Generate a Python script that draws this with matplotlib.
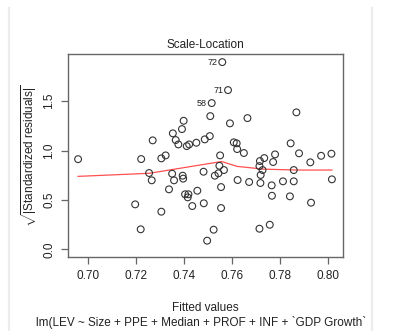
import matplotlib
matplotlib.use("Agg")
import matplotlib.pyplot as plt
from matplotlib.lines import Line2D

plt.rcParams['font.family'] = ['Liberation Sans', 'DejaVu Sans']
plt.rcParams['mathtext.fontset'] = 'custom'
plt.rcParams['mathtext.rm'] = 'Liberation Sans'
plt.rcParams['mathtext.it'] = 'Liberation Sans:italic'

# Fitted values and sqrt(|standardized residuals|)
fitted = [
    0.6957, 0.7220, 0.7268, 0.7304, 0.7322, 0.7352, 0.7364, 0.7375, 0.7390, 0.7397,
    0.7410, 0.7420, 0.7450,
    0.7558, 0.7582, 0.7514, 0.7508, 0.7663, 0.7590, 0.7867, 0.7485, 0.7506, 0.7606,
    0.7618, 0.7620, 0.7648, 0.7549, 0.7843, 0.7878, 0.7778, 0.7733, 0.7715, 0.7770,
    0.7925, 0.7970, 0.8013, 0.7546, 0.7713,
    0.7253, 0.7264, 0.7349, 0.7357, 0.7393, 0.7395, 0.7336, 0.7195, 0.7304, 0.7218,
    0.7403, 0.7417, 0.7414, 0.7454, 0.7433,
    0.7480, 0.7527, 0.7542, 0.7553, 0.7481, 0.7553, 0.7522, 0.7495, 0.7622, 0.7670,
    0.7717, 0.7764, 0.7765, 0.7811, 0.7856, 0.7840, 0.7928, 0.8015, 0.7713, 0.7756,
    0.7856, 0.7718, 0.7726, 0.7565,
]
sqrt_std_resid = [
    0.913, 0.914, 1.103, 0.921, 0.951, 1.174, 1.106, 1.062, 1.217, 1.301,
    1.045, 1.062, 1.079,
    1.894, 1.611, 1.480, 1.348, 1.328, 1.275, 1.386, 1.113, 1.146, 1.083,
    1.073, 1.015, 0.975, 0.951, 1.073, 0.972, 0.961, 0.924, 0.894, 0.884,
    0.881, 0.947, 0.968, 0.846, 0.843,
    0.773, 0.699, 0.766, 0.699, 0.746, 0.716, 0.608, 0.456, 0.382, 0.204,
    0.558, 0.558, 0.527, 0.594, 0.439,
    0.786, 0.746, 0.770, 0.631, 0.467, 0.419, 0.200, 0.089, 0.702, 0.682,
    0.672, 0.648, 0.543, 0.689, 0.689, 0.537, 0.473, 0.709, 0.210, 0.250,
    0.803, 0.753, 0.803, 0.803,
]

# Labelled observations (largest residuals)
id_labels = ["72", "71", "58"]
id_index = [13, 14, 15]

# Smoothed trend line
smooth_x = [0.6957, 0.7253, 0.7555, 0.7620, 0.7730, 0.7870, 0.8015]
smooth_y = [0.739, 0.770, 0.889, 0.840, 0.812, 0.803, 0.803]

x_ticks = [0.70, 0.72, 0.74, 0.76, 0.78, 0.80]
y_ticks = [0.0, 0.5, 1.0, 1.5]

fig = plt.figure(figsize=(3.98, 3.31), dpi=100)
ax = fig.add_axes([68 / 398, 1 - 257 / 331, (342.7 - 68) / 398, (257 - 54) / 331])

ax.scatter(fitted, sqrt_std_resid, s=24, facecolors='none', edgecolors='#333333',
           linewidths=0.8, zorder=3)
ax.plot(smooth_x, smooth_y, color='#ff5050', lw=0.9, zorder=2)

for lab, i in zip(id_labels, id_index):
    ax.annotate(lab, (fitted[i], sqrt_std_resid[i]), xytext=(-3.5, 0),
                textcoords='offset points', ha='right', va='center',
                fontsize=6.5, color='#222222')

ax.set_xlim(0.6915, 0.806)
ax.set_ylim(-0.076, 1.976)
ax.set_xticks(x_ticks)
ax.set_xticklabels([f"{v:.2f}" for v in x_ticks])
ax.set_yticks(y_ticks)
ax.set_yticklabels([f"{v:.1f}" for v in y_ticks], rotation=90, va='center')

for sp in ax.spines.values():
    sp.set_color('#666666')
    sp.set_linewidth(1.0)
ax.tick_params(direction='out', length=5, width=0.9, color='#666666',
               labelsize=8.5, labelcolor='#222222')
ax.tick_params(axis='x', pad=4.5)
ax.tick_params(axis='y', pad=4)

ax.set_title("Scale-Location", fontsize=8.5, color='#222222', pad=4)
ax.set_ylabel(r"$\sqrt{|\mathrm{Standardized\ residuals}|}$", fontsize=8.5,
              color='#222222', labelpad=3)
fig.text(205 / 398, 1 - 308 / 331, "Fitted values", ha='center', va='center',
         fontsize=8.5, color='#222222')
fig.text(35.7 / 398, 1 - 322.7 / 331,
         "lm(LEV ~ Size + PPE + Median + PROF + INF + `GDP Growth`",
         ha='left', va='center', fontsize=8.5, color='#222222')

# Faint page borders on both sides
for xpx in (9, 372):
    fig.add_artist(Line2D([xpx / 398, xpx / 398], [0, 1 - 8 / 331],
                          transform=fig.transFigure, color='#ececec', lw=1.6))

fig.savefig("out.png", dpi=100)
